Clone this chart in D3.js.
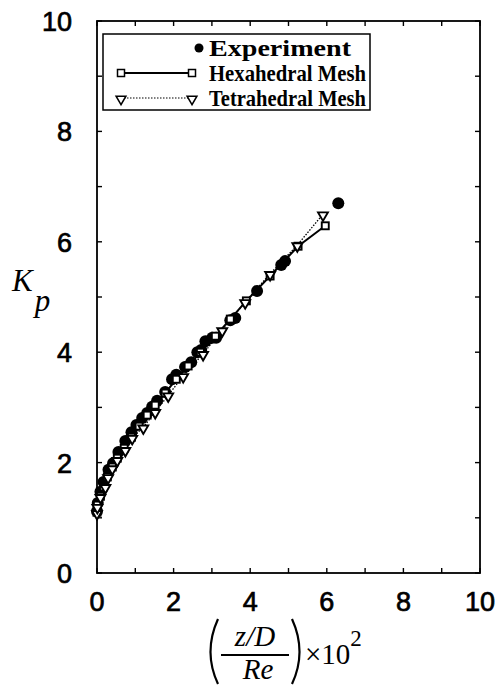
<!DOCTYPE html>
<html lang="en">
<head>
<meta charset="UTF-8">
<title>Kp vs z/D/Re</title>
<script src="https://cdn.jsdelivr.net/npm/d3@7"></script>
<style>
  body { margin: 0; background: #fff; }
</style>
</head>
<body>
<div id="chart"></div>
<script>
// data
const expX = [0.0, 0.02, 0.09, 0.17, 0.3, 0.42, 0.56, 0.74, 0.9, 1.03, 1.18, 1.31, 1.44, 1.57, 1.78, 1.96, 2.07, 2.3, 2.46, 2.62, 2.72, 2.83, 3.01, 3.11, 3.48, 3.61, 4.18, 4.81, 4.91, 6.3]
const expK = [1.12, 1.27, 1.47, 1.65, 1.87, 1.99, 2.19, 2.39, 2.55, 2.68, 2.81, 2.9, 3.01, 3.12, 3.28, 3.51, 3.59, 3.73, 3.82, 4.0, 4.04, 4.2, 4.26, 4.26, 4.58, 4.62, 5.11, 5.58, 5.65, 6.7]

const hexX = [0, 0.01, 0.09, 0.17, 0.27, 0.4, 0.53, 0.71, 0.9, 1.1, 1.31, 1.52, 1.78, 2.07, 2.38, 2.7, 3.09, 3.48, 3.9, 4.52, 5.25, 5.96]
const hexK = [1.10, 1.23, 1.39, 1.56, 1.74, 1.92, 2.08, 2.26, 2.46, 2.66, 2.86, 3.04, 3.26, 3.51, 3.75, 4.0, 4.29, 4.6, 4.93, 5.38, 5.92, 6.29]

const tetX = [0, 0.01, 0.09, 0.22, 0.29, 0.4, 0.53, 0.74, 0.92, 1.21, 1.52, 1.86, 2.25, 2.77, 3.27, 3.87, 4.52, 5.23, 5.9]
const tetK = [1.09, 1.2, 1.38, 1.56, 1.74, 1.9, 2.05, 2.23, 2.45, 2.64, 2.92, 3.22, 3.57, 3.97, 4.4, 4.91, 5.42, 5.94, 6.5]

const xTicks = [0, 2, 4, 6, 8, 10]
const yTicks = [0, 2, 4, 6, 8, 10]
const legendLabels = ["Experiment", "Hexahedral Mesh", "Tetrahedral Mesh"]

const W = 499, H = 685
const margin = {top: 21, right: 19, bottom: 112, left: 97}

const svg = d3.select("#chart").append("svg")
    .attr("width", W).attr("height", H)

const x = d3.scaleLinear().domain([0, 10]).range([margin.left, W - margin.right])
const y = d3.scaleLinear().domain([0, 10]).range([H - margin.bottom, margin.top])

// frame
svg.append("rect")
    .attr("x", x(0)).attr("y", y(10))
    .attr("width", x(10) - x(0)).attr("height", y(0) - y(10))
    .attr("fill", "none").attr("stroke", "#000").attr("stroke-width", 1.8)

// inward ticks, every unit
const minor = d3.range(0, 11)
const tickLen = 5
const tk = svg.append("g").attr("stroke", "#000").attr("stroke-width", 1.4)
minor.forEach(v => {
  tk.append("line").attr("x1", x(v)).attr("x2", x(v)).attr("y1", y(0)).attr("y2", y(0) - tickLen)
  tk.append("line").attr("x1", x(v)).attr("x2", x(v)).attr("y1", y(10)).attr("y2", y(10) + tickLen)
  tk.append("line").attr("y1", y(v)).attr("y2", y(v)).attr("x1", x(0)).attr("x2", x(0) + tickLen)
  tk.append("line").attr("y1", y(v)).attr("y2", y(v)).attr("x1", x(10)).attr("x2", x(10) - tickLen)
})

// tick labels
const tickFont = "'Liberation Sans', Arial, sans-serif"
svg.append("g").selectAll("text").data(xTicks).join("text")
    .attr("x", d => x(d)).attr("y", y(0) + 38)
    .attr("text-anchor", "middle")
    .attr("font-family", tickFont).attr("font-size", 27)
    .attr("stroke", "#000").attr("stroke-width", 0.7)
    .text(d => d)
svg.append("g").selectAll("text").data(yTicks).join("text")
    .attr("x", x(0) - 25).attr("y", d => y(d) + 10)
    .attr("text-anchor", "end")
    .attr("font-family", tickFont).attr("font-size", 27)
    .attr("stroke", "#000").attr("stroke-width", 0.7)
    .text(d => d)

// y label K_p
const serif = "'Liberation Serif', 'Times New Roman', serif"
const ky = svg.append("text").attr("x", 12).attr("y", 291)
    .attr("font-family", serif).attr("font-style", "italic").attr("font-size", 31)
ky.append("tspan").text("K")
ky.append("tspan").attr("dy", 20).attr("dx", 2).text("p")

// x label ( z/D over Re ) x10^2
const xl = svg.append("g")
xl.append("text").attr("x", 255).attr("y", 646)
    .attr("text-anchor", "middle")
    .attr("font-family", serif).attr("font-style", "italic").attr("font-size", 29)
    .text("z/D")
xl.append("line").attr("x1", 221).attr("x2", 289).attr("y1", 655).attr("y2", 655)
    .attr("stroke", "#000").attr("stroke-width", 2)
xl.append("text").attr("x", 258).attr("y", 679)
    .attr("text-anchor", "middle")
    .attr("font-family", serif).attr("font-style", "italic").attr("font-size", 29)
    .text("Re")
xl.append("path").attr("d", "M218,619 Q203,652 218,684")
    .attr("fill", "none").attr("stroke", "#000").attr("stroke-width", 2.2)
xl.append("path").attr("d", "M292,619 Q307,652 292,684")
    .attr("fill", "none").attr("stroke", "#000").attr("stroke-width", 2.2)
const x10 = xl.append("text").attr("x", 305).attr("y", 664)
    .attr("font-family", serif).attr("font-size", 29)
x10.append("tspan").text("\u00d710")
x10.append("tspan").attr("dy", -18).attr("font-size", 23).text("2")

// series
const expData = expX.map((v, i) => [v, expK[i]])
const hexData = hexX.map((v, i) => [v, hexK[i]])
const tetData = tetX.map((v, i) => [v, tetK[i]])
const line = d3.line().x(d => x(d[0])).y(d => y(d[1]))

svg.append("path").datum(hexData).attr("d", line)
    .attr("fill", "none").attr("stroke", "#000").attr("stroke-width", 2)
svg.append("path").datum(tetData).attr("d", line)
    .attr("fill", "none").attr("stroke", "#000").attr("stroke-width", 1.3).attr("stroke-dasharray", "1.5,1.5")

svg.append("g").selectAll("circle").data(expData).join("circle")
    .attr("cx", d => x(d[0])).attr("cy", d => y(d[1])).attr("r", 6)
    .attr("fill", "#000")

const sq = 7
svg.append("g").selectAll("rect").data(hexData).join("rect")
    .attr("x", d => x(d[0]) - sq / 2).attr("y", d => y(d[1]) - sq / 2)
    .attr("width", sq).attr("height", sq)
    .attr("fill", "#fff").attr("stroke", "#000").attr("stroke-width", 1.9)

const tri = d3.symbol().type(d3.symbolTriangle).size(42)
svg.append("g").selectAll("path").data(tetData).join("path")
    .attr("d", tri)
    .attr("transform", d => `translate(${x(d[0])},${y(d[1]) + 1}) rotate(180)`)
    .attr("fill", "#fff").attr("stroke", "#000").attr("stroke-width", 1.9)

// legend
const lg = svg.append("g")
lg.append("rect").attr("x", 103).attr("y", 34).attr("width", 267).attr("height", 76)
    .attr("fill", "#fff").attr("stroke", "#000").attr("stroke-width", 1.5)
const rowY = [48, 73, 98]
lg.append("circle").attr("cx", 199).attr("cy", rowY[0]).attr("r", 4.5).attr("fill", "#000")
lg.append("line").attr("x1", 121).attr("x2", 192).attr("y1", rowY[1]).attr("y2", rowY[1])
    .attr("stroke", "#000").attr("stroke-width", 1.8)
;[121, 192].forEach(cx => lg.append("rect")
    .attr("x", cx - 3.5).attr("y", rowY[1] - 3.5).attr("width", 7).attr("height", 7)
    .attr("fill", "#fff").attr("stroke", "#000").attr("stroke-width", 1.5))
lg.append("line").attr("x1", 121).attr("x2", 192).attr("y1", rowY[2]).attr("y2", rowY[2])
    .attr("stroke", "#000").attr("stroke-width", 1.2).attr("stroke-dasharray", "1.5,1.5")
;[121, 192].forEach(cx => lg.append("path").attr("d", tri)
    .attr("transform", `translate(${cx},${rowY[2] + 1}) rotate(180)`)
    .attr("fill", "#fff").attr("stroke", "#000").attr("stroke-width", 1.5))
const lw = [142, 157, 157]
lg.selectAll("text.lab").data(legendLabels).join("text")
    .attr("class", "lab")
    .attr("x", 209).attr("y", (d, i) => rowY[i] + 8)
    .attr("font-family", serif).attr("font-weight", "bold").attr("font-size", 23)
    .attr("textLength", (d, i) => lw[i]).attr("lengthAdjust", "spacingAndGlyphs")
    .text(d => d)
</script>
</body>
</html>
